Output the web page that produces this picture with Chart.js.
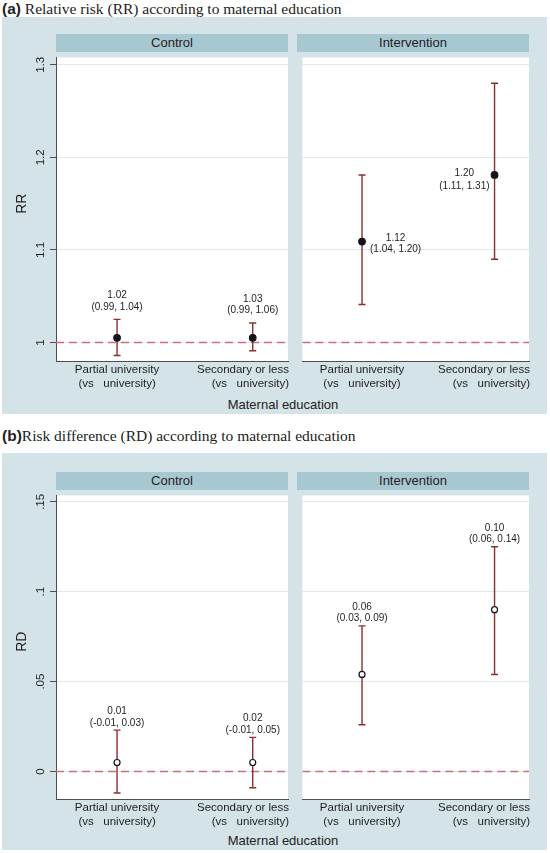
<!DOCTYPE html>
<html>
<head>
<meta charset="utf-8">
<script src="https://cdn.jsdelivr.net/npm/chart.js@4.4.1/dist/chart.umd.min.js"></script>
<style>
  body { margin: 0; background: #fff; }
  #page { position: relative; width: 550px; height: 853px; overflow: hidden; font-family: "Liberation Sans", Arial, sans-serif; color: #222; }
  .ttl { position: absolute; left: 2px; font-family: "Liberation Serif", serif; font-size: 15.5px; line-height: 18px; white-space: pre; }
  .ttl b { font-family: "Liberation Sans", sans-serif; }
  .bg { position: absolute; left: 2px; width: 545px; height: 397px; background: #d4e3e7; }
  .strip { position: absolute; width: 232px; height: 18px; line-height: 18px; background: #a8c8d1; text-align: center; font-size: 13px; }
  .xt { position: absolute; left: 183px; width: 200px; text-align: center; font-size: 13px; line-height: 16px; }
  canvas { position: absolute; }
</style>
</head>
<body>
<div id="page"></div>
<script>
// categories on the x axis (two-line labels)
const categories = [['Partial university', '(vs   university)'], ['Secondary or less', '(vs   university)']];
const catPos = [1, 2];
const facets = ['Control', 'Intervention'];
const xMin = 0.55, xMax = 2.26;

// (a) relative risk
const rrTicks = [1, 1.1, 1.2, 1.3];
const rrTickLabels = ['1', '1.1', '1.2', '1.3'];
const rrControl = [1.005, 1.005];
const rrControlLo = [0.986, 0.991];
const rrControlHi = [1.025, 1.021];
const rrInterv = [1.109, 1.181];
const rrIntervLo = [1.041, 1.090];
const rrIntervHi = [1.181, 1.280];
const rrControlText = [['1.02', '(0.99, 1.04)'], ['1.03', '(0.99, 1.06)']];
const rrIntervText = [['1.12', '(1.04, 1.20)'], ['1.20', '(1.11, 1.31)']];

// (b) risk difference
const rdTicks = [0, 0.05, 0.1, 0.15];
const rdTickLabels = ['0', '.05', '.1', '.15'];
const rdControl = [0.005, 0.005];
const rdControlLo = [-0.012, -0.009];
const rdControlHi = [0.023, 0.019];
const rdInterv = [0.054, 0.090];
const rdIntervLo = [0.026, 0.054];
const rdIntervHi = [0.081, 0.125];
const rdControlText = [['0.01', '(-0.01, 0.03)'], ['0.02', '(-0.01, 0.05)']];
const rdIntervText = [['0.06', '(0.03, 0.09)'], ['0.10', '(0.06, 0.14)']];

const axisColor = '#4d4d4d';
const gridColor = '#dfe8eb';
const ciColor = '#8b2e2e';
const refColor = '#cc6d7a';
const textColor = '#1e1e1e';

const panels = [
  { tag: '(a)', title: ' Relative risk (RR) according to maternal education', bgTop: 17, top: 52, ttlTop: 0,
    yMin: 0.98, yMax: 1.308, ticks: rrTicks, tickLabels: rrTickLabels, ref: 1, yTitle: 'RR', filled: true, gap: 12.5,
    series: [
      { est: rrControl, lo: rrControlLo, hi: rrControlHi, text: rrControlText, place: ['above', 'above'] },
      { est: rrInterv, lo: rrIntervLo, hi: rrIntervHi, text: rrIntervText, place: ['right', 'left'] }
    ] },
  { tag: '(b)', title: 'Risk difference (RD) according to maternal education', bgTop: 453, top: 490, ttlTop: 427,
    yMin: -0.0153, yMax: 0.1536, ticks: rdTicks, tickLabels: rdTickLabels, ref: 0, yTitle: 'RD', filled: false, gap: 7.3,
    series: [
      { est: rdControl, lo: rdControlLo, hi: rdControlHi, text: rdControlText, place: ['above', 'above'] },
      { est: rdInterv, lo: rdIntervLo, hi: rdIntervHi, text: rdIntervText, place: ['above', 'above'] }
    ] }
];

const sideText = { right: { dx: 8, dy1: -3.5, dy2: 8 }, left: { dx: -5, dy1: -1.5, dy2: 11.5 } };

const page = document.getElementById('page');
function box(cls, css, html) {
  const d = document.createElement('div');
  d.className = cls;
  Object.assign(d.style, css);
  if (html) d.innerHTML = html;
  page.appendChild(d);
  return d;
}

// white plot area, rotated y labels, category labels and estimate text
function facetPlugin(p, s, showY) {
  return {
    id: 'facetText',
    beforeDraw(chart) {
      const { ctx, chartArea: a } = chart;
      ctx.save();
      ctx.fillStyle = '#fff';
      ctx.fillRect(a.left, a.top, a.right - a.left, a.bottom - a.top);
      ctx.restore();
    },
    afterDraw(chart) {
      const { ctx, chartArea: a, scales: { x, y } } = chart;
      ctx.save();
      ctx.fillStyle = textColor;
      ctx.textBaseline = 'middle';
      if (showY) {
        ctx.textAlign = 'center';
        ctx.font = '11.5px "Liberation Sans"';
        p.ticks.forEach((v, i) => {
          ctx.save();
          ctx.translate(a.left - 15, y.getPixelForValue(v));
          ctx.rotate(-Math.PI / 2);
          ctx.fillText(p.tickLabels[i], 0, 0);
          ctx.restore();
        });
        ctx.font = '14px "Liberation Sans"';
        ctx.save();
        ctx.translate(a.left - 34, (a.top + a.bottom) / 2 - 5.5);
        ctx.rotate(-Math.PI / 2);
        ctx.fillText(p.yTitle, 0, 0);
        ctx.restore();
      }
      // each line is kept inside the plot's right edge, like Stata does
      ctx.font = '11.5px "Liberation Sans"';
      ctx.textAlign = 'left';
      categories.forEach((lines, i) => {
        const cx = x.getPixelForValue(catPos[i]);
        lines.forEach((t, j) => {
          const w = ctx.measureText(t).width;
          ctx.fillText(t, Math.min(cx - w / 2, a.right + 1 - w), a.bottom + 9 + j * 14);
        });
      });
      ctx.font = '10px "Liberation Sans"';
      ctx.textAlign = 'center';
      s.text.forEach((lines, i) => {
        const px = x.getPixelForValue(catPos[i]);
        const w = Math.max(...lines.map(t => ctx.measureText(t).width));
        let cx = px, y1, y2;
        if (s.place[i] === 'above') {
          y2 = y.getPixelForValue(s.hi[i]) - p.gap;
          y1 = y2 - 11.5;
        } else {
          const st = sideText[s.place[i]];
          const py = y.getPixelForValue(s.est[i]);
          cx = st.dx > 0 ? px + st.dx + w / 2 : px + st.dx - w / 2;
          y1 = py + st.dy1;
          y2 = py + st.dy2;
        }
        ctx.fillText(lines[0], cx, y1);
        ctx.fillText(lines[1], cx, y2);
      });
      ctx.restore();
    }
  };
}

function facet(p, f) {
  const s = p.series[f];
  const isCtrl = f === 0;
  const left = isCtrl ? 2 : 297;
  box('strip', { left: (isCtrl ? 56 : 297) + 'px', top: (p.top - 18) + 'px' }, facets[f]);

  const cv = document.createElement('canvas');
  cv.width = isCtrl ? 294 : 240;
  cv.height = 343;
  cv.style.left = left + 'px';
  cv.style.top = p.top + 'px';
  page.appendChild(cv);

  const datasets = [{
    type: 'scatter',
    data: catPos.map((x, i) => ({ x, y: s.est[i] })),
    pointRadius: p.filled ? 3.3 : 3,
    pointBackgroundColor: p.filled ? '#14141c' : '#fff',
    pointBorderColor: '#14141c',
    pointBorderWidth: 1.2,
    order: 0
  }];
  catPos.forEach((x, i) => {
    datasets.push({
      type: 'line',
      data: [{ x, y: s.lo[i] }, { x, y: s.hi[i] }],
      borderColor: ciColor,
      borderWidth: 1.4,
      pointStyle: 'line',
      pointRadius: 3.5,
      pointBorderColor: ciColor,
      pointBorderWidth: 1.4,
      order: 1
    });
  });
  datasets.push({
    type: 'line',
    data: [{ x: xMin, y: p.ref }, { x: xMax, y: p.ref }],
    borderColor: refColor,
    borderWidth: 1.3,
    borderDash: [8, 5],
    pointRadius: 0,
    order: 2
  });

  new Chart(cv, {
    type: 'scatter',
    data: { datasets },
    options: {
      responsive: false,
      animation: false,
      events: [],
      layout: { padding: { right: 8 } },
      plugins: { legend: { display: false }, tooltip: { enabled: false } },
      scales: {
        x: {
          type: 'linear', min: xMin, max: xMax,
          afterBuildTicks: sc => { sc.ticks = []; },
          afterFit: sc => { sc.height = 34; },
          grid: { display: false },
          ticks: { display: false },
          border: { display: true, color: axisColor, width: 1 }
        },
        y: {
          type: 'linear', min: p.yMin, max: p.yMax,
          afterBuildTicks: sc => { sc.ticks = p.ticks.map(v => ({ value: v })); },
          afterFit: sc => { sc.width = isCtrl ? 54 : 0; },
          ticks: { display: false },
          grid: { color: gridColor, lineWidth: 1, drawTicks: isCtrl, tickLength: 6, tickColor: axisColor },
          border: { display: isCtrl, color: axisColor, width: 1 }
        }
      }
    },
    plugins: [facetPlugin(p, s, isCtrl)]
  });
}

panels.forEach(p => {
  box('ttl', { top: p.ttlTop + 'px' }, '<b>' + p.tag + '</b>' + p.title);
  box('bg', { top: p.bgTop + 'px' });
  facet(p, 0);
  facet(p, 1);
  box('xt', { top: (p.bgTop + 380) + 'px' }, 'Maternal education');
});
</script>
</body>
</html>
